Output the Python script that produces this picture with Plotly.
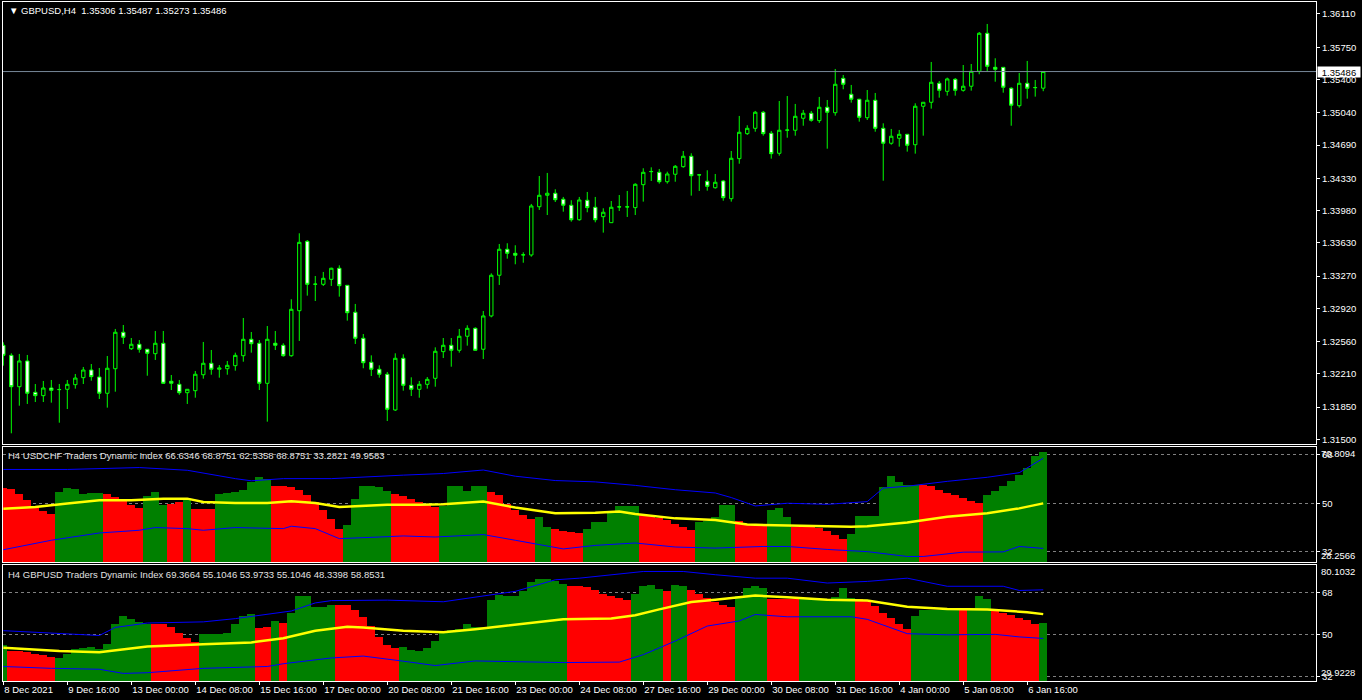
import plotly.graph_objects as go

# ---------------- data ----------------
bars = list(range(131))

open_ = [1.32519,1.32410,1.32070,1.32349,1.32009,1.31973,1.32056,1.32038,1.32042,1.32092,
         1.32168,1.32251,1.32175,1.31999,1.32265,1.32660,1.32482,1.32530,1.32476,1.32428,
         1.32541,1.32129,1.32096,1.32005,1.32027,1.32200,1.32324,1.32259,1.32265,1.32298,
         1.32406,1.32584,1.32541,1.32107,1.32541,1.32519,1.32406,1.32894,1.33646,1.33180,
         1.33180,1.33234,1.33354,1.33169,1.32877,1.32595,1.32335,1.32259,1.32205,1.31818,
         1.32378,1.32085,1.32042,1.32096,1.32161,1.32450,1.32519,1.32465,1.32617,1.32703,
         1.32476,1.32837,1.33278,1.33560,1.33516,1.33498,1.33498,1.34021,1.34145,1.34167,
         1.34102,1.34037,1.33880,1.34091,1.34015,1.33913,1.33848,1.34018,1.34018,1.34011,
         1.34260,1.34401,1.34394,1.34292,1.34373,1.34455,1.34568,1.34365,1.34297,1.34227,
         1.34300,1.34108,1.34542,1.34813,1.34871,1.35045,1.34817,1.34600,1.34850,1.34850,
         1.34980,1.35034,1.34954,1.35099,1.35040,1.35413,1.35240,1.35186,1.34986,1.35175,
         1.34871,1.34709,1.34763,1.34806,1.34693,1.35110,1.35153,1.35359,1.35272,1.35402,
         1.35283,1.35327,1.35489,1.35901,1.35532,1.35532,1.35305,1.35116,1.35359,1.35311,
         1.35306]
high = [1.32551,1.32432,1.32425,1.32414,1.32099,1.32132,1.32143,1.32099,1.32143,1.32208,
        1.32284,1.32316,1.32273,1.32403,1.32696,1.32739,1.32598,1.32576,1.32479,1.32674,
        1.32674,1.32197,1.32143,1.32045,1.32240,1.32555,1.32468,1.32305,1.32349,1.32439,
        1.32815,1.32663,1.32576,1.32728,1.32674,1.32541,1.33018,1.33733,1.33660,1.33270,
        1.33314,1.33360,1.33386,1.33172,1.32967,1.32641,1.32410,1.32302,1.32230,1.32432,
        1.32421,1.32172,1.32132,1.32175,1.32497,1.32598,1.32598,1.32696,1.32736,1.32714,
        1.32891,1.33299,1.33617,1.33625,1.33603,1.33527,1.34051,1.34354,1.34387,1.34210,
        1.34127,1.34091,1.34127,1.34181,1.34127,1.34004,1.34083,1.34148,1.34192,1.34275,
        1.34438,1.34448,1.34430,1.34401,1.34473,1.34625,1.34600,1.34376,1.34416,1.34376,
        1.34311,1.34625,1.35005,1.34904,1.35059,1.35059,1.34842,1.35167,1.35221,1.35135,
        1.35070,1.35059,1.35211,1.35178,1.35514,1.35449,1.35341,1.35190,1.35286,1.35254,
        1.34925,1.34864,1.34853,1.34810,1.35142,1.35156,1.35590,1.35384,1.35420,1.35416,
        1.35557,1.35568,1.35915,1.36002,1.35630,1.35535,1.35316,1.35471,1.35601,1.35395,
        1.35487]
low = [1.32298,1.31565,1.31864,1.31883,1.31904,1.31904,1.31897,1.31680,1.31828,1.32049,
       1.32099,1.32135,1.31937,1.31843,1.32016,1.32533,1.32468,1.32439,1.32189,1.32360,
       1.32100,1.32034,1.31983,1.31883,1.31951,1.32157,1.32200,1.32168,1.32200,1.32244,
       1.32341,1.32439,1.32034,1.31691,1.32468,1.32395,1.32395,1.32566,1.33057,1.32999,
       1.33162,1.33162,1.33046,1.32786,1.32533,1.32270,1.32186,1.32168,1.31698,1.31807,
       1.32027,1.31969,1.31951,1.32049,1.32070,1.32381,1.32287,1.32439,1.32515,1.32460,
       1.32370,1.32822,1.33173,1.33458,1.33397,1.33414,1.33479,1.33986,1.33931,1.34072,
       1.33967,1.33859,1.33870,1.33961,1.33852,1.33740,1.33845,1.33975,1.33910,1.33931,
       1.34076,1.34300,1.34271,1.34271,1.34292,1.34444,1.34141,1.34192,1.34195,1.34217,
       1.34086,1.34076,1.34487,1.34799,1.34834,1.34791,1.34542,1.34574,1.34769,1.34791,
       1.34899,1.34943,1.34929,1.34650,1.35008,1.35294,1.35149,1.34943,1.34961,1.34834,
       1.34303,1.34693,1.34672,1.34618,1.34596,1.34791,1.35084,1.35203,1.35225,1.35225,
       1.35268,1.35279,1.35457,1.35489,1.35376,1.35257,1.34899,1.35095,1.35192,1.35214,
       1.35273]
close = [1.32410,1.32070,1.32349,1.31999,1.31973,1.32056,1.32031,1.32040,1.32096,1.32164,
         1.32251,1.32179,1.31999,1.32270,1.32660,1.32606,1.32530,1.32476,1.32432,1.32541,
         1.32107,1.32107,1.32005,1.32042,1.32205,1.32324,1.32259,1.32273,1.32302,1.32410,
         1.32584,1.32536,1.32107,1.32584,1.32519,1.32406,1.32909,1.33635,1.33180,1.33182,
         1.33245,1.33354,1.33165,1.32872,1.32595,1.32330,1.32259,1.32205,1.31825,1.32378,
         1.32085,1.32042,1.32096,1.32150,1.32454,1.32519,1.32465,1.32617,1.32703,1.32465,
         1.32837,1.33278,1.33560,1.33516,1.33495,1.33500,1.34029,1.34145,1.34167,1.34097,
         1.34037,1.33880,1.34094,1.34011,1.33880,1.33961,1.34015,1.34020,1.34020,1.34264,
         1.34394,1.34403,1.34292,1.34376,1.34459,1.34568,1.34357,1.34367,1.34242,1.34286,
         1.34119,1.34546,1.34828,1.34871,1.35045,1.34813,1.34596,1.34850,1.34852,1.35001,
         1.35034,1.34958,1.35099,1.35045,1.35348,1.35348,1.35186,1.34990,1.35175,1.34871,
         1.34709,1.34785,1.34806,1.34687,1.35110,1.35153,1.35370,1.35283,1.35406,1.35283,
         1.35327,1.35489,1.35901,1.35543,1.35511,1.35316,1.35121,1.35359,1.35305,1.35313,
         1.35486]

last_price = 1.35486

x_tick_bars = [0, 8, 16, 24, 32, 40, 48, 56, 64, 72, 80, 88, 96, 104, 112, 120, 128]
x_tick_labels = ["8 Dec 2021", "9 Dec 16:00", "13 Dec 00:00", "14 Dec 08:00", "15 Dec 16:00",
                 "17 Dec 00:00", "20 Dec 08:00", "21 Dec 16:00", "23 Dec 00:00", "24 Dec 08:00",
                 "27 Dec 16:00", "29 Dec 00:00", "30 Dec 08:00", "31 Dec 16:00", "4 Jan 00:00",
                 "5 Jan 08:00", "6 Jan 16:00"]

price_ticks = [1.31500, 1.31850, 1.32210, 1.32560, 1.32920, 1.33270, 1.33630,
               1.33980, 1.34330, 1.34690, 1.35040, 1.35400, 1.35750, 1.36110]
price_tick_labels = ["%.5f" % v for v in price_ticks]

tdi_levels = [32, 50, 68]

# Panel 1: H4 USDCHF Traders Dynamic Index
usdchf_fill = [55.8,55.4,53.6,51.1,48.6,47.2,46.2,54.0,55.8,55.1,
               53.6,53.8,53.8,53.3,52.3,51.1,49.3,48.4,52.6,54.2,
               49.3,49.9,50.5,51.4,48.0,48.0,48.0,53.3,53.8,54.2,
               54.8,57.9,59.7,59.1,56.4,56.4,56.0,54.8,53.0,50.5,
               47.4,44.3,40.6,41.9,51.7,56.4,56.4,56.0,54.6,53.3,
               52.6,51.4,50.5,49.6,48.6,49.0,56.5,56.5,54.6,56.4,
               56.4,54.3,53.1,49.6,47.5,45.6,44.1,44.9,41.3,40.6,
               39.8,39.4,39.1,40.6,43.1,43.1,46.3,48.8,49.0,48.8,
               46.0,45.4,44.6,43.8,42.5,41.3,40.0,42.9,43.4,45.0,
               49.4,49.4,43.4,42.1,41.9,41.9,47.5,48.1,45.0,41.3,
               41.3,41.3,40.9,39.6,38.1,36.6,38.8,45.3,45.3,45.3,
               55.9,60.0,57.9,56.9,56.9,56.6,56.3,55.0,53.8,52.9,
               51.9,50.9,50.0,53.1,54.4,56.3,58.1,60.6,63.1,67.5,
               68.8751]
usdchf_dir = ("RRRRRRR" "GGGGGG" "RRRRR" "GGG" "RR" "G" "RRR" "GGGGGGG" "RRRRRRRRR"
              "GGGGGG" "RRRRRR" "GGGGGG" "RRRRRR" "GG" "RRRR" "GGGGGGG" "RRRRRRR"
              "GGGGG" "RRRR" "GGG" "RRRRRRR" "GGGGGGGGG" "RRRRRRRR" "GGGGGGGG")
usdchf_base_bars = [0,4,8,12,16,20,23,25,29,33,36,39,42,45,48,52,55,60,64,69,74,77,79,
                    84,89,93,98,103,106,108,113,118,123,127,130]
usdchf_base = [48.0,48.6,49.9,51.1,51.1,51.7,51.7,50.5,50.1,50.1,50.7,50.1,48.6,49.0,49.4,
               49.4,49.6,50.6,48.4,46.3,46.5,46.9,46.0,44.4,43.8,42.1,41.9,41.5,41.3,41.5,
               42.9,45.0,46.3,48.1,49.9583]
usdchf_up_bars = [0,8,17,23,29,31,35,41,50,55,60,64,69,74,79,84,89,91,94,98,103,108,110,
                  113,118,123,127,129,130]
usdchf_up = [62.5,62.5,63.2,62.2,59.1,58.3,59.1,59.1,60.4,61.0,62.3,60.0,58.4,57.9,56.6,
             55.0,53.8,52.1,49.0,50.0,49.6,50.6,55.6,56.3,58.1,59.6,61.3,65.0,66.6346]
usdchf_dn_bars = [0,6,12,17,19,23,25,29,35,36,39,42,47,50,54,57,60,64,70,74,79,84,89,95,
                  98,103,108,113,115,120,125,127,130]
usdchf_dn = [32.8,36.3,39.0,40.0,41.0,40.6,40.0,41.0,40.6,41.5,40.6,36.9,37.5,37.9,37.5,
             38.0,38.4,36.3,33.1,34.4,35.3,33.8,33.4,34.0,34.0,32.9,32.1,30.3,30.3,31.9,
             32.0,34.0,33.2821]

# Panel 2: H4 GBPUSD Traders Dynamic Index
gbpusd_fill = [45.4,42.7,42.7,42.4,41.8,41.1,40.2,39.7,41.4,43.9,
               44.3,44.8,43.6,45.8,54.5,58.1,56.7,55.5,54.5,54.5,
               54.4,53.1,50.7,48.4,47.0,50.1,50.1,50.1,50.7,54.5,
               58.1,58.8,52.7,53.5,55.8,54.8,59.5,66.9,66.6,62.0,
               62.0,62.7,63.0,62.7,60.6,57.4,53.8,48.8,45.4,44.3,
               44.8,43.2,42.9,44.3,47.3,51.0,51.9,52.3,54.4,53.3,
               53.3,65.1,67.0,66.6,66.6,68.7,72.7,74.0,74.0,73.0,
               71.9,71.1,70.9,70.4,69.1,67.6,66.6,65.9,65.1,67.6,
               70.9,71.3,69.9,68.7,71.6,70.9,69.4,67.6,65.9,64.1,
               63.0,62.0,66.6,70.1,70.9,70.1,65.4,65.6,65.6,65.4,
               65.4,65.4,65.4,65.4,66.1,70.1,65.9,65.4,64.4,62.3,
               59.4,57.3,54.4,52.3,58.0,60.6,60.6,60.6,60.6,60.6,
               60.6,61.6,66.9,65.4,60.6,59.4,58.4,57.3,56.1,54.7,
               55.1046]
gbpusd_dir = ("G" "RRRRRR" "GGGGGGGGGGGG" "RRRRRR" "GGGGGGG" "RR" "G" "R" "GGGGGG"
              "RRRRRRRR" "GGGGGGGGGGGGGGGGGGGGG" "RRRRRRRR" "GGGG" "R" "GG" "RRRRRR"
              "GGGG" "RRRR" "GGGGGGG" "RRRRRRR" "GGGGGG" "R" "GGG" "RRRRRR" "G")
gbpusd_base_bars = [0,4,7,12,18,25,31,35,39,43,45,50,55,59,64,70,76,79,82,86,89,94,98,
                    103,108,113,118,123,128,130]
gbpusd_base = [44.3,43.6,42.9,42.4,44.8,45.8,46.6,48.4,51.7,53.4,53.1,51.7,51.0,52.3,54.4,
               56.6,57.0,58.4,60.9,64.1,65.1,66.9,66.1,65.1,64.7,62.0,61.1,60.9,59.7,58.8531]
gbpusd_up_bars = [0,12,14,18,25,29,36,39,41,48,55,64,69,72,80,85,89,94,98,103,108,113,
                  118,125,127,130]
gbpusd_up = [51.7,49.6,53.1,55.0,55.5,56.9,60.2,63.7,64.7,64.9,64.2,68.7,73.7,74.4,77.3,
             77.3,75.9,74.4,74.4,72.3,73.0,74.4,70.9,70.9,69.1,69.3664]
gbpusd_dn_bars = [0,6,12,15,18,25,33,35,41,45,50,54,59,64,70,77,80,84,88,92,94,98,106,
                  108,113,118,124,127,130]
gbpusd_dn = [36.2,35.4,35.0,33.2,33.5,35.4,36.2,37.4,39.9,40.7,38.5,36.6,38.6,38.3,37.9,
             38.1,41.3,47.2,53.7,55.9,58.7,57.7,57.7,56.6,50.4,49.9,50.1,49.0,48.3398]

header_text = "\u25BC\u00a0GBPUSD,H4\u00a0\u00a01.35306 1.35487 1.35273 1.35486"
usdchf_label = "H4 USDCHF Traders Dynamic Index 66.6346 68.8751 62.5358 68.8751 33.2821 49.9583"
gbpusd_label = "H4 GBPUSD Traders Dynamic Index 69.3664 55.1046 53.9733 55.1046 48.3398 58.8531"
usdchf_range = [28.2566, 70.8094]
gbpusd_range = [29.9228, 80.1032]

# ---------------- style ----------------
FONT = "Liberation Sans, Arial, sans-serif"
FS = 9.5
GREEN = "#008000"
RED = "#FF0000"
CANDLE = "#00FF00"
YELLOW = "#FFFF00"
BLUE = "#0000FF"
WHITE = "#FFFFFF"

# pixel layout helpers (plot area spans y = 2 .. 681 px)
TOP, BOT = 2, 681
H = BOT - TOP
def py(px):
    return (BOT - px) / H

fig = go.Figure()

fig.add_trace(go.Candlestick(
    x=bars, open=open_, high=high, low=low, close=close,
    xaxis="x", yaxis="y",
    increasing=dict(line=dict(color=CANDLE, width=1), fillcolor="#000000"),
    decreasing=dict(line=dict(color=CANDLE, width=1), fillcolor=WHITE),
    whiskerwidth=0, hoverinfo="skip", showlegend=False))

def add_tdi(fill, dirs, base_b, base_v, up_b, up_v, dn_b, dn_v, xa, ya):
    fig.add_trace(go.Bar(
        x=bars, y=fill, width=1,
        marker=dict(color=[GREEN if d == "G" else RED for d in dirs], line=dict(width=0)),
        xaxis=xa, yaxis=ya, hoverinfo="skip", showlegend=False))
    fig.add_trace(go.Scatter(x=up_b, y=up_v, mode="lines", line=dict(color=BLUE, width=1),
                             xaxis=xa, yaxis=ya, hoverinfo="skip", showlegend=False))
    fig.add_trace(go.Scatter(x=dn_b, y=dn_v, mode="lines", line=dict(color=BLUE, width=1),
                             xaxis=xa, yaxis=ya, hoverinfo="skip", showlegend=False))
    fig.add_trace(go.Scatter(x=base_b, y=base_v, mode="lines", line=dict(color=YELLOW, width=2.5),
                             xaxis=xa, yaxis=ya, hoverinfo="skip", showlegend=False))

add_tdi(usdchf_fill, usdchf_dir, usdchf_base_bars, usdchf_base, usdchf_up_bars, usdchf_up,
        usdchf_dn_bars, usdchf_dn, "x2", "y2")
add_tdi(gbpusd_fill, gbpusd_dir, gbpusd_base_bars, gbpusd_base, gbpusd_up_bars, gbpusd_up,
        gbpusd_dn_bars, gbpusd_dn, "x3", "y3")

xr = [-0.04, 164.1]
xcommon = dict(range=xr, showline=True, linecolor=WHITE, linewidth=1, mirror=True,
               showgrid=False, zeroline=False, fixedrange=True, automargin=False)
ycommon = dict(side="right", showline=True, linecolor=WHITE, linewidth=1, mirror=True,
               zeroline=False, ticks="outside", ticklen=3, tickcolor=WHITE, automargin=False,
               tickfont=dict(color=WHITE, size=FS, family=FONT), fixedrange=True)

fig.update_layout(
    width=1362, height=700,
    paper_bgcolor="#000000", plot_bgcolor="#000000",
    margin=dict(l=3, r=46, t=TOP, b=700 - BOT, autoexpand=False),
    showlegend=False, hovermode=False, boxgap=0.4, bargap=0,
    font=dict(family=FONT, size=FS, color=WHITE),
    xaxis=dict(xcommon, anchor="y", showticklabels=False, ticks="",
               rangeslider=dict(visible=False)),
    xaxis2=dict(xcommon, anchor="y2", matches="x", showticklabels=False, ticks=""),
    xaxis3=dict(xcommon, anchor="y3", matches="x", tickvals=x_tick_bars, ticktext=x_tick_labels,
                ticks="outside", ticklen=3, tickcolor=WHITE, ticklabelposition="outside right",
                tickangle=0, tickfont=dict(color=WHITE, size=FS, family=FONT)),
    yaxis=dict(ycommon, anchor="x", domain=[py(444), 1], range=[1.31449, 1.36240],
               tickvals=price_ticks, ticktext=price_tick_labels, showgrid=False),
    yaxis2=dict(ycommon, anchor="x2", domain=[py(562), py(447)], range=usdchf_range,
                tickvals=tdi_levels, ticktext=[str(v) for v in tdi_levels],
                showgrid=True, gridcolor="#808080", gridwidth=1, griddash="3px,3px"),
    yaxis3=dict(ycommon, anchor="x3", domain=[0, py(565)], range=gbpusd_range,
                tickvals=tdi_levels, ticktext=[str(v) for v in tdi_levels],
                showgrid=True, gridcolor="#808080", gridwidth=1, griddash="3px,3px"),
)

# current price line
fig.add_shape(type="line", xref="x domain", x0=0, x1=1, yref="y", y0=last_price, y1=last_price,
              line=dict(color="#778899", width=1))

ann = []
ann.append(dict(text="%.5f" % last_price, xref="paper", x=1, xanchor="left", xshift=1,
                yref="y", y=last_price, yanchor="middle", showarrow=False,
                bgcolor=WHITE, font=dict(color="#000000", size=FS, family=FONT),
                width=42, height=10, borderpad=0))
ann.append(dict(text=header_text, xref="paper", x=0, xanchor="left", xshift=4,
                yref="paper", y=py(10.5), yanchor="middle", showarrow=False,
                font=dict(color=WHITE, size=FS, family=FONT)))
ann.append(dict(text=usdchf_label, xref="paper", x=0, xanchor="left", xshift=3,
                yref="paper", y=py(455), yanchor="middle", showarrow=False,
                font=dict(color="#E0E0E0", size=FS, family=FONT)))
ann.append(dict(text=gbpusd_label, xref="paper", x=0, xanchor="left", xshift=3,
                yref="paper", y=py(574), yanchor="middle", showarrow=False,
                font=dict(color="#E0E0E0", size=FS, family=FONT)))
for txt, ypx in [("%.4f" % usdchf_range[1], 453.3), ("%.4f" % usdchf_range[0], 555.7),
                 ("%.4f" % gbpusd_range[1], 571.7), ("%.4f" % gbpusd_range[0], 672.5)]:
    ann.append(dict(text=txt, xref="paper", x=1, xanchor="left", xshift=3,
                    yref="paper", y=py(ypx), yanchor="middle", showarrow=False,
                    font=dict(color=WHITE, size=FS, family=FONT)))
fig.update_layout(annotations=ann)

fig.write_html("out.html", config={"displayModeBar": False, "staticPlot": True},
               post_script="document.body.style.margin='0';document.body.style.overflow='hidden';"
                           "document.documentElement.style.background='#000';")
